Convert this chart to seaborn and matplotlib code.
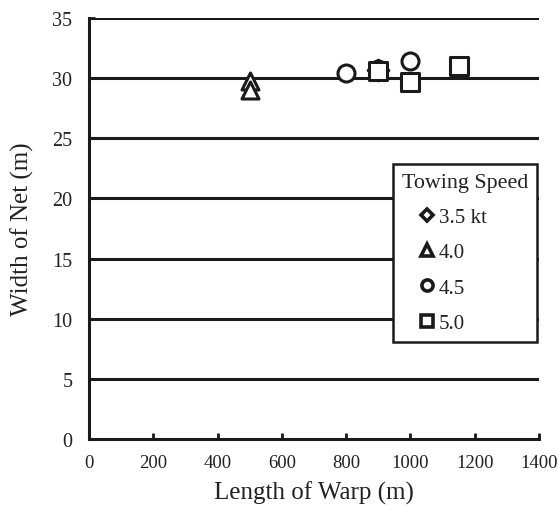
import matplotlib
matplotlib.use('Agg')
import matplotlib.pyplot as plt
import pandas as pd
import seaborn as sns
from matplotlib.lines import Line2D
from matplotlib.legend_handler import HandlerLine2D

# values
speeds = ['3.5 kt', '4.0', '4.0', '4.5', '4.5', '4.5', '5.0', '5.0', '5.0']
warp_length = [900, 500, 500, 800, 900, 1000, 900, 1000, 1150]
net_width = [30.7, 29.8, 29.0, 30.4, 30.8, 31.4, 30.6, 29.7, 31.0]
speed_order = ['3.5 kt', '4.0', '4.5', '5.0']
speed_markers = {'3.5 kt': 'D', '4.0': '^', '4.5': 'o', '5.0': 's'}

INK = '#1a1a1a'


def draw_scatter():
    df = pd.DataFrame({'Towing Speed': speeds, 'warp': warp_length, 'width': net_width})

    sns.set_theme(style='ticks')
    plt.rcParams['font.family'] = ['Liberation Serif', 'DejaVu Serif']
    fig, ax = plt.subplots(figsize=(5.58, 5.06), dpi=100)
    fig.subplots_adjust(left=0.1595, right=0.966, top=0.9625, bottom=0.1304)

    for y in range(5, 36, 5):
        ax.axhline(y, color=INK, lw=2.2, zorder=1)

    for speed in speed_order:
        sub = df[df['Towing Speed'] == speed]
        sns.scatterplot(data=sub, x='warp', y='width', marker=speed_markers[speed],
                        s=150 if speed != '3.5 kt' else 110, facecolor='white',
                        edgecolor=INK, linewidth=2.2, legend=False, ax=ax, zorder=3)

    ax.set_xlim(0, 1400)
    ax.set_ylim(0, 35)
    ax.set_xticks(range(0, 1401, 200))
    ax.set_yticks(range(0, 36, 5))
    ax.tick_params(axis='both', direction='in', colors=INK,
                   labelcolor='#222222', width=2, length=4)
    ax.tick_params(axis='x', pad=11, labelsize=13.5)
    ax.tick_params(axis='y', pad=12, labelsize=14.5)
    ax.set_xlabel('Length of Warp (m)', fontsize=18, color='#222222', labelpad=7)
    ax.set_ylabel('Width of Net (m)', fontsize=18, color='#222222', labelpad=13)

    sns.despine(ax=ax, top=True, right=True)
    for side in ['left', 'bottom']:
        ax.spines[side].set_linewidth(2.2)
        ax.spines[side].set_color(INK)

    handles = [Line2D([], [], ls='none', marker=speed_markers[s], color=INK,
                      markerfacecolor='white', markeredgecolor=INK, mew=2.6,
                      markersize=8 if s != '3.5 kt' else 6.5) for s in speed_order]
    leg = ax.legend(handles, speed_order, title='Towing Speed', loc='upper left',
                    bbox_to_anchor=(0.676, 0.653), frameon=True, fancybox=False,
                    fontsize=15, title_fontsize=15.8, alignment='left',
                    handlelength=1.5, handletextpad=0.25, labelspacing=0.75,
                    borderpad=0.43, borderaxespad=0,
                    handler_map={Line2D: HandlerLine2D(xpad=0.9)})
    leg.get_frame().set_edgecolor(INK)
    leg.get_frame().set_linewidth(1.8)
    leg.get_frame().set_alpha(1)
    for t in leg.get_texts():
        t.set_color('#222222')
    leg.get_title().set_color('#222222')

    fig.savefig('out.png', dpi=100)
    return fig


draw_scatter()
